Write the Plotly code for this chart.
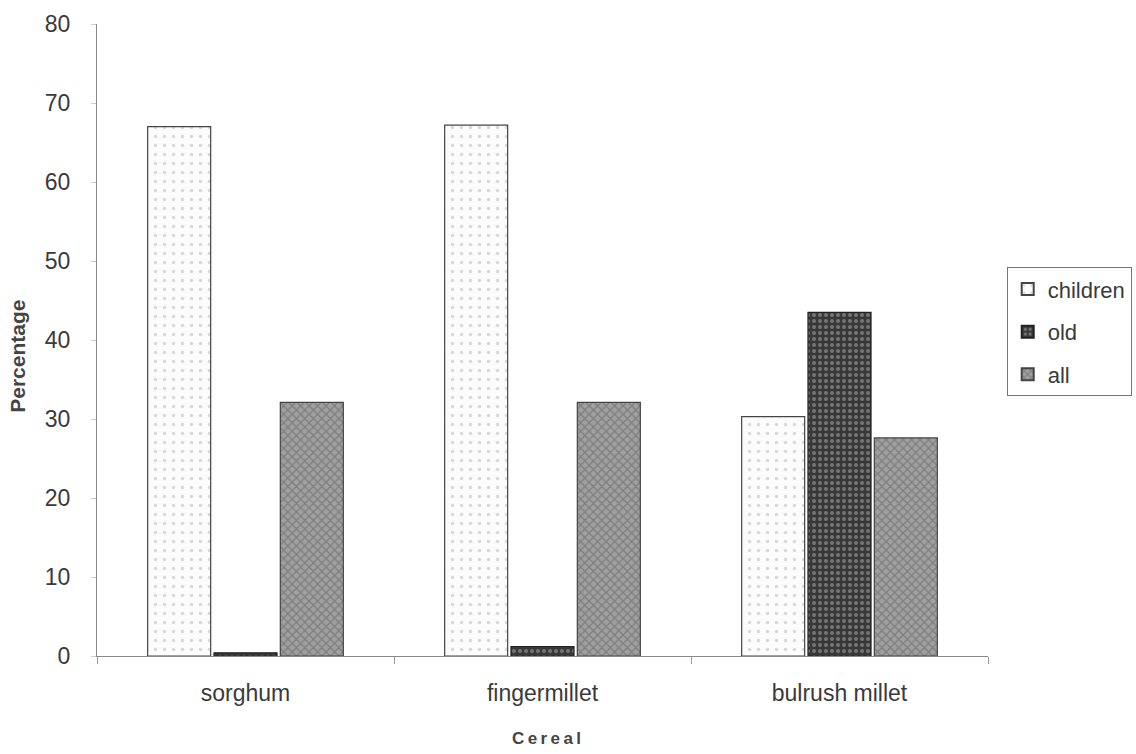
import plotly.graph_objects as go

categories = ["sorghum", "fingermillet", "bulrush millet"]
children = [67, 67.2, 30.3]
old = [0.4, 1.2, 43.5]
all_vals = [32.1, 32.1, 27.6]

fig = go.Figure()
fig.add_trace(go.Bar(
    x=categories, y=children, name="children", legendgroup="c",
    marker=dict(color="white", line=dict(color="#444", width=1.2),
                pattern=dict(shape=".", bgcolor="#fcfcfc", fgcolor="#b5b5b5", size=9, solidity=0.12)),
))
fig.add_trace(go.Bar(
    x=categories, y=old, name="old", legendgroup="o",
    marker=dict(color="#333", line=dict(color="#222", width=1.2),
                pattern=dict(shape=".", bgcolor="#383838", fgcolor="#b0b0b0", size=6, solidity=0.35)),
))
fig.add_trace(go.Bar(
    x=categories, y=all_vals, name="all", legendgroup="a",
    marker=dict(color="#999", line=dict(color="#444", width=1.2),
                pattern=dict(shape="x", bgcolor="#a0a0a0", fgcolor="#5e5e5e", size=6, solidity=0.4)),
))

fig.update_layout(
    width=1136, height=754,
    margin=dict(l=97, r=148, t=24, b=98, autoexpand=False),
    paper_bgcolor="white", plot_bgcolor="white",
    barmode="group", bargap=0.33, bargroupgap=0.05,
    font=dict(family="Liberation Sans, Arial, sans-serif", size=22, color="#3a3a3a"),
    xaxis=dict(
        showline=True, linecolor="#888", linewidth=1,
        ticks="outside", tickson="boundaries", ticklen=7, tickcolor="#999",
        showgrid=False, tickfont=dict(size=23), ticklabelstandoff=16,
        automargin=False,
    ),
    yaxis=dict(
        range=[0, 80], dtick=10,
        showline=True, linecolor="#888", linewidth=1,
        ticks="outside", ticklen=5, tickcolor="#ccc",
        showgrid=False, zeroline=False, tickfont=dict(size=23),
        ticklabelstandoff=16, automargin=False,
    ),
    legend=dict(
        x=1.021, y=0.513, xanchor="left", yanchor="middle",
        bordercolor="#777", borderwidth=1, bgcolor="white",
        font=dict(size=22, color="#3a3a3a"),
        tracegroupgap=11, itemsizing="constant", itemwidth=30,
    ),
    annotations=[
        dict(text="<b>Percentage</b>", xref="paper", yref="paper",
             x=-0.0887, y=0.475, textangle=-90, showarrow=False,
             font=dict(size=21, color="#444"), xanchor="center", yanchor="middle"),
        dict(text="<b>C\u2009e\u2009r\u2009e\u2009a\u2009l</b>", xref="paper", yref="paper",
             x=0.504, y=-0.131, showarrow=False,
             font=dict(size=17, color="#444"), xanchor="center", yanchor="middle"),
    ],
)

fig.write_html("out.html")
